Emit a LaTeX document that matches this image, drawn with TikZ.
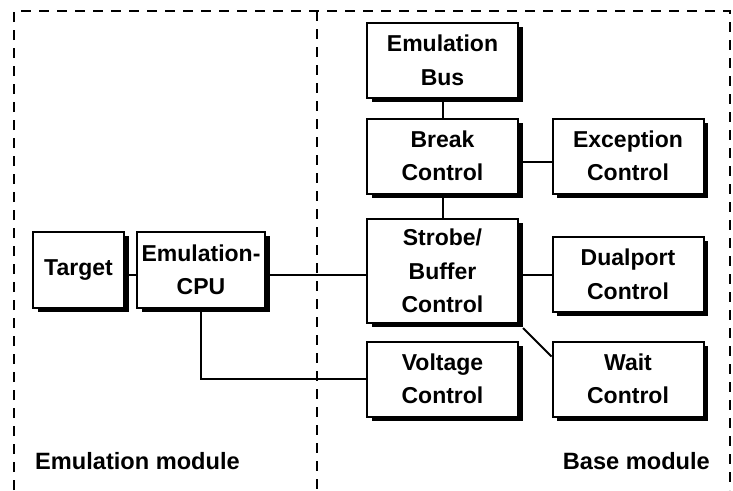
\documentclass[tikz,border=0pt]{standalone}
\usepackage{fontspec}
\setmainfont{Liberation Sans}
\usetikzlibrary{shadows}

\begin{document}
\begin{tikzpicture}[x=1pt,y=-1pt,
  blk/.style={draw,line width=2pt,fill=white,align=center,inner sep=0pt,
    minimum width=151pt,minimum height=75pt,
    font=\fontsize{23}{33.5}\selectfont\bfseries,
    drop shadow={shadow xshift=4.5pt,shadow yshift=-4pt,opacity=1,fill=black}},
  wire/.style={line width=2pt},
  frame/.style={line width=2pt,dash pattern=on 10pt off 8pt},
  lbl/.style={font=\fontsize{23.6}{28}\selectfont\bfseries,inner sep=0pt}]
 \useasboundingbox (0,0) rectangle (733,490);
 % module frames
 \draw[frame] (14,490)--(14,11)--(730,11)--(730,490);
 \draw[frame] (317,11)--(317,490);
 \node[lbl,anchor=west] (emlab) at (35,461) {Emulation module};
 \node[lbl,anchor=east] (baselab) at (710,461) {Base module};

 % emulation module
 \node[blk,minimum width=91pt,minimum height=76pt] (target) at (78.5,270) {Target};
 \node[blk,minimum width=128pt,minimum height=76pt] (cpu) at (201,270) {Emulation-\\CPU};

 % base module
 \node[blk] (bus) at (442.5,60.5) {Emulation\\Bus};
 \node[blk] (brk) at (442.5,156) {Break\\Control};
 \node[blk] (exc) at (628,156) {Exception\\Control};
 \node[blk,minimum height=104pt] (strobe) at (442.5,271) {Strobe/\\Buffer\\Control};
 \node[blk] (dual) at (628,274.5) {Dualport\\Control};
 \node[blk] (volt) at (442.5,379) {Voltage\\Control};
 \node[blk] (wait) at (628,379) {Wait\\Control};

 % connections
 \draw[wire] ([yshift=-5pt]target.east)--([yshift=-5pt]cpu.west);
 \draw[wire] ([yshift=-5pt]cpu.east)--([yshift=-5pt]cpu.east -| strobe.west);
 \draw[wire] (cpu.south) |- (volt.west);
 \draw[wire] (bus.south)--(brk.north);
 \draw[wire] (brk.south)--(strobe.north);
 \draw[wire] ([yshift=-6pt]brk.east)--([yshift=-6pt]exc.west);
 \draw[wire] (dual.west -| strobe.east)--(dual.west);
 \draw[wire] ([xshift=4pt,yshift=-4pt]strobe.south east)--([yshift=-16pt]wait.north west);
\end{tikzpicture}
\end{document}
